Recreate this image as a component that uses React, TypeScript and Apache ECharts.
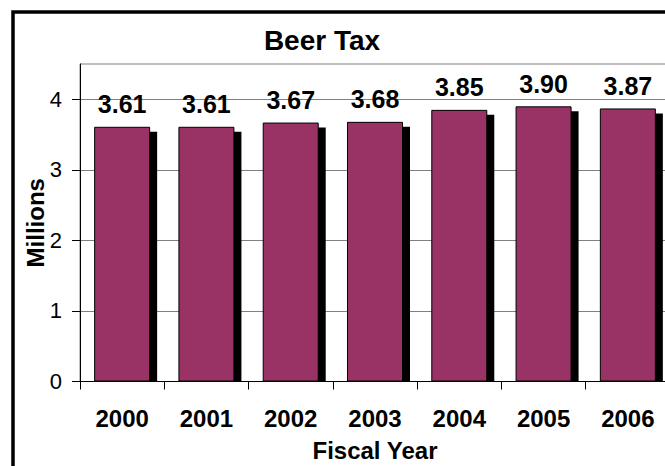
import React, { useEffect, useRef } from "react";
import * as echarts from "echarts";

// Fiscal years and beer tax revenue (millions)
const years = ["2000", "2001", "2002", "2003", "2004", "2005", "2006"];
const beerTax = [3.61, 3.61, 3.67, 3.68, 3.85, 3.9, 3.87];
const yTicks = [0, 1, 2, 3, 4];

const FONT = "Arial, 'Liberation Sans', Helvetica, sans-serif";
const BAR_W = 56;

export default function App() {
  const ref = useRef<HTMLDivElement>(null);

  useEffect(() => {
    if (!ref.current) return;
    const chart = echarts.init(ref.current, undefined, { renderer: "svg" });

    const shadowData = beerTax.map((v, i) => [i, v]);

    chart.setOption({
      animation: false,
      backgroundColor: "#ffffff",
      graphic: [
        {
          type: "rect",
          shape: { x: 13, y: 12, width: 700, height: 500 },
          style: { fill: "none", stroke: "#000", lineWidth: 3.5 },
          z: 100,
        },
        {
          type: "text",
          x: 322,
          y: 40,
          style: {
            text: "Beer Tax",
            align: "center",
            verticalAlign: "middle",
            font: `bold 28px ${FONT}`,
            fill: "#000",
          },
        },
      ],
      grid: {
        left: 80,
        top: 64,
        width: 590,
        height: 317.5,
        outerBoundsMode: "none",
        containLabel: false,
        show: true,
        borderColor: "#808080",
        borderWidth: 1,
        backgroundColor: "#fff",
      },
      xAxis: {
        type: "category",
        data: years,
        boundaryGap: true,
        name: "Fiscal Year",
        nameLocation: "middle",
        nameGap: 57,
        nameMoveOverlap: false,
        nameTextStyle: { fontFamily: FONT, fontWeight: "bold", fontSize: 24, color: "#000" },
        axisLine: { lineStyle: { color: "#000", width: 1 } },
        axisTick: { show: true, length: 8, lineStyle: { color: "#000" } },
        axisLabel: {
          margin: 25,
          fontFamily: FONT,
          fontWeight: "bold",
          fontSize: 24,
          color: "#000",
        },
      },
      yAxis: {
        type: "value",
        min: 0,
        max: 4.5,
        interval: 1,
        name: "Millions",
        nameLocation: "middle",
        nameGap: 33,
        nameMoveOverlap: false,
        nameTextStyle: { fontFamily: FONT, fontWeight: "bold", fontSize: 24, color: "#000" },
        axisLine: { show: true, lineStyle: { color: "#000", width: 1 } },
        axisTick: { show: true, length: 8, customValues: yTicks, lineStyle: { color: "#000" } },
        axisLabel: {
          customValues: yTicks,
          margin: 18,
          fontFamily: FONT,
          fontSize: 22,
          color: "#000",
        },
        splitLine: { show: true, lineStyle: { color: "#808080", width: 1 } },
      },
      series: [
        {
          // drop shadow behind each bar, offset right and down to the baseline
          type: "custom",
          z: 2,
          silent: true,
          data: shadowData,
          encode: { x: 0, y: 1 },
          renderItem: (_params: any, api: any) => {
            const idx = api.value(0);
            const val = api.value(1);
            const top = api.coord([idx, val]);
            const base = api.coord([idx, 0]);
            return {
              type: "rect",
              shape: {
                x: top[0] - BAR_W / 2 + 7,
                y: top[1] + 5,
                width: BAR_W,
                height: base[1] - top[1] - 5,
              },
              style: { fill: "#000" },
            };
          },
        },
        {
          type: "bar",
          z: 3,
          data: beerTax,
          barWidth: BAR_W,
          itemStyle: { color: "#993366", borderColor: "#000", borderWidth: 1 },
          label: {
            show: true,
            position: "top",
            distance: 10,
            formatter: (p: any) => Number(p.value).toFixed(2),
            fontFamily: FONT,
            fontWeight: "bold",
            fontSize: 25,
            lineHeight: 25,
            color: "#000",
          },
        },
      ],
    });

    return () => chart.dispose();
  }, []);

  return (
    <div
      ref={ref}
      style={{ position: "fixed", left: 0, top: 0, width: 665, height: 466 }}
    />
  );
}
